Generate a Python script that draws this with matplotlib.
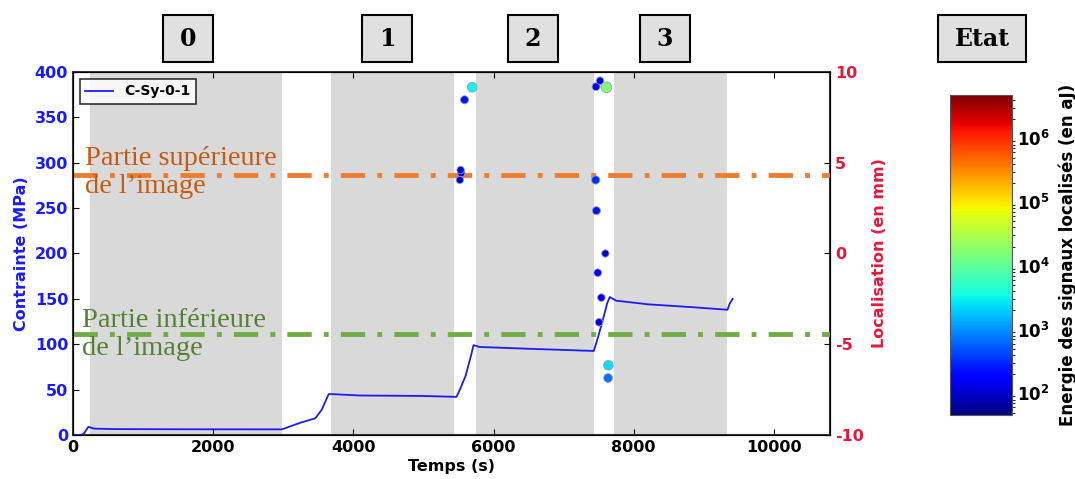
import numpy as np
import matplotlib
matplotlib.use("Agg")
import matplotlib.pyplot as plt
from matplotlib.colors import LogNorm
from matplotlib.patches import Rectangle

plt.rcParams['axes.unicode_minus'] = False

# stress curve (time in s, stress in MPa)
temps = [0, 120, 160, 219, 300, 600, 1500, 2981, 3243, 3457, 3550, 3647, 3700,
         4100, 5000, 5471, 5520, 5600, 5680, 5714, 5800, 6500, 7430, 7480,
         7560, 7620, 7657, 7750, 8200, 8800, 9338, 9370, 9410]
contrainte = [0, 0, 2, 9, 7, 6.5, 6.3, 6.2, 13.5, 18.4, 28, 45, 45,
              43.5, 43, 42, 50, 65, 88, 99, 97, 95, 92.6, 105,
              127, 145, 152, 148, 144, 141, 138, 145, 150]

# acoustic emission events
t_ea = [5695, 5586, 5539, 5519, 5530, 7462, 7519, 7610, 7457, 7467,
        7595, 7486, 7538, 7505, 7638, 7633]
loc_ea = [9.16, 8.47, 4.42, 4.05, 4.6, 9.19, 9.52, 9.16, 4.05, 2.36,
          0.0, -1.06, -2.43, -3.79, -6.16, -6.86]
energie_ea = [3.2e3, 250, 100, 100, 110, 200, 130, 1.6e4, 320, 250,
              100, 160, 130, 130, 2.5e3, 700]

# loading states (shaded time windows)
etats_debut = [243, 3686, 5743, 7714]
etats_fin = [2986, 5440, 7429, 9329]
etats_noms = ['0', '1', '2', '3']

niveau_sup = 286.5
niveau_inf = 111.3

fig = plt.figure(figsize=(10.75, 4.79), dpi=100)
ax = fig.add_axes([0.0679, 0.0919, 0.7042, 0.7578])

for d, f in zip(etats_debut, etats_fin):
    ax.axvspan(d, f, color='#d9d9d9', lw=0, zorder=0)

ax.plot(temps, contrainte, color='#1a1aff', lw=1.3, label='C-Sy-0-1', zorder=3)
ax.set_xlim(0, 10800)
ax.set_ylim(0, 400)
ax.set_xticks(np.arange(0, 10001, 2000))
ax.set_yticks(np.arange(0, 401, 50))
ax.tick_params(direction='in', length=4, top=True, labelsize=11.5)
for lab in ax.get_xticklabels():
    lab.set_fontweight('bold')
for lab in ax.get_yticklabels():
    lab.set_fontweight('bold')
    lab.set_color('#1a1aff')
ax.set_xlabel('Temps (s)', fontsize=11.5, fontweight='bold', labelpad=3)
ax.set_ylabel('Contrainte (MPa)', fontsize=11.5, fontweight='bold', color='#1a1aff', labelpad=4)
for s in ax.spines.values():
    s.set_linewidth(1.5)
    s.set_color('#333333')

leg = ax.legend(loc='upper left', prop={'weight': 'bold', 'size': 10}, fancybox=False,
                handlelength=2, borderaxespad=0.5)
leg.get_frame().set_edgecolor('black')
leg.get_frame().set_linewidth(1.2)

ax.axhline(niveau_sup, color='#ed7d31', lw=3.5, ls=(0, (5, 2.5, 1, 2.5)), zorder=4)
ax.axhline(niveau_inf, color='#70ad47', lw=3.5, ls=(0, (5, 2.5, 1, 2.5)), zorder=4)
ax.text(170, niveau_sup + 3, 'Partie supérieure\nde l\u2019image', color='#c55a11', fontsize=20.5,
        family='Liberation Serif', va='center', ha='left', linespacing=1.15, zorder=5)
ax.text(125, niveau_inf - 1, 'Partie inférieure\nde l\u2019image', color='#538135', fontsize=20.5,
        family='Liberation Serif', va='center', ha='left', linespacing=1.15, zorder=5)

ax2 = ax.twinx()
norm = LogNorm(vmin=10**1.66, vmax=10**6.68)
sc = ax2.scatter(t_ea, loc_ea, c=energie_ea, cmap='jet', norm=norm,
                 s=14 * np.log10(energie_ea), edgecolors='#9999bb', linewidths=0.6, zorder=5)
ax2.set_ylim(-10, 10)
ax2.set_yticks([-10, -5, 0, 5, 10])
ax2.tick_params(direction='in', length=4, labelsize=11.5)
for lab in ax2.get_yticklabels():
    lab.set_fontweight('bold')
    lab.set_color('#e8173a')
ax2.set_ylabel('Localisation (en mm)', fontsize=11.5, fontweight='bold', color='#e8173a', labelpad=6)

cax = fig.add_axes([0.8837, 0.1336, 0.0577, 0.6681])
cb = fig.colorbar(sc, cax=cax)
cb.outline.set_edgecolor('#555555')
cax.tick_params(labelsize=12, length=0)
for lab in cax.get_yticklabels():
    lab.set_fontweight('bold')
cb.set_label('Energie des signaux localisés (en aJ)', fontsize=12, fontweight='bold', labelpad=6)

# state boxes on top
box_x = [163, 362, 508, 640, 938]
box_w = [50, 50, 50, 50, 88]
box_txt = etats_noms + ['Etat']
W, H = 1075.0, 479.0
for x0, w, t in zip(box_x, box_w, box_txt):
    fig.patches.append(Rectangle((x0 / W, 1 - 62 / H), w / W, 47 / H, transform=fig.transFigure,
                                 facecolor='#e0e0e0', edgecolor='black', lw=1.5))
    fig.text((x0 + w / 2) / W, 1 - 38.5 / H, t, ha='center', va='center', fontsize=17,
             fontweight='bold', family='DejaVu Serif')

fig.savefig('out.png', dpi=100)
